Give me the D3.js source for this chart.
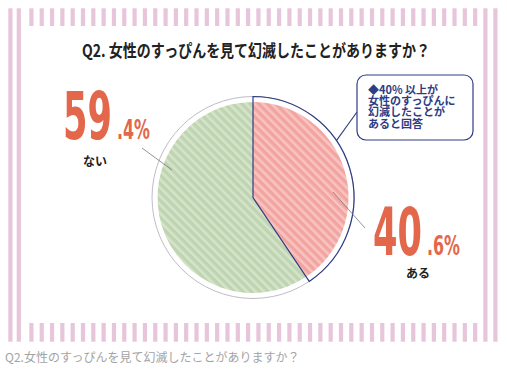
<!DOCTYPE html>
<html lang="ja">
<head>
    <meta charset="UTF-8">
    <script src="https://cdn.jsdelivr.net/npm/d3@7"></script>
    <title>Q2 pie</title>
    <style>
        html, body {
            margin: 0px;
            padding: 0px;
            background-color: #ffffff;
            font-family: "Noto Sans CJK JP", sans-serif;
        }
        svg { display: block; }
    </style>
</head>
<body>
    <div id="chart"></div>

    <script>
        // data
        let categories = ['ある', 'ない'];
        let values = [40.6, 59.4];
        let title = 'Q2. 女性のすっぴんを見て幻滅したことがありますか？';
        let caption = 'Q2.女性のすっぴんを見て幻滅したことがありますか？';
        let note_lines = ['◆40% 以上が', '女性のすっぴんに', '幻滅したことが', 'あると回答'];

        let width = 507, height = 373;
        let svg = d3.select('#chart').append('svg').attr('width', width).attr('height', height);

        let pink = '#e7c5da';
        let navy = '#2f3c84';
        let numColor = '#e3674b';

        // frame: long side bars + short stripes top/bottom
        let sideBars = [8.3, 16.7, 483.3, 493.3];
        svg.selectAll('rect.side')
            .data(sideBars)
            .join('rect')
            .attr('class', 'side')
            .attr('x', d => d).attr('y', 8.3)
            .attr('width', 4.2).attr('height', 333.4)
            .attr('fill', pink);

        let stripeX = d3.range(44).map(i => 29.3 + i * 10.32);
        [[8.3, 17.7], [323, 18.7]].forEach(([y, h]) => {
            svg.append('g').selectAll('rect')
                .data(stripeX)
                .join('rect')
                .attr('x', d => d).attr('y', y)
                .attr('width', 4.2).attr('height', h)
                .attr('fill', pink);
        });

        // title
        svg.append('text')
            .attr('x', 82).attr('y', 57)
            .attr('textLength', 348).attr('lengthAdjust', 'spacingAndGlyphs')
            .attr('font-size', 17).attr('font-weight', 'bold')
            .attr('fill', '#222')
            .text(title);

        // caption
        svg.append('text')
            .attr('x', 5).attr('y', 362)
            .attr('font-size', 12)
            .attr('fill', '#a3a3a3')
            .text(caption);

        // stripe patterns
        let defs = svg.append('defs');
        let fills = [
            { id: 'redStripe', base: '#f2a4a1', light: '#f8c4c1' },
            { id: 'greenStripe', base: '#bfd4b1', light: '#d5e4ca' }
        ];
        fills.forEach(f => {
            let p = defs.append('pattern')
                .attr('id', f.id)
                .attr('patternUnits', 'userSpaceOnUse')
                .attr('width', 6).attr('height', 6)
                .attr('patternTransform', 'rotate(-45)');
            p.append('rect').attr('width', 6).attr('height', 6).attr('fill', f.base);
            p.append('rect').attr('width', 2.6).attr('height', 6).attr('fill', f.light);
        });

        // pie
        let cx = 253, cy = 197.5;
        let rFill = 95.5, rRing = 101;
        let pie = d3.pie().sort(null).value(d => d);
        let arcs = pie(values);
        let arcFill = d3.arc().innerRadius(0).outerRadius(rFill);
        let arcOuter = d3.arc().innerRadius(0).outerRadius(rRing);

        let g = svg.append('g').attr('transform', `translate(${cx},${cy})`);

        g.append('circle')
            .attr('r', rRing)
            .attr('fill', 'none')
            .attr('stroke', '#b9b3c0')
            .attr('stroke-width', 0.9);

        g.selectAll('path.slice')
            .data(arcs)
            .join('path')
            .attr('class', 'slice')
            .attr('d', arcFill)
            .attr('fill', (d, i) => `url(#${fills[i].id})`);

        // highlight outline of first slice
        g.append('path')
            .attr('d', arcOuter(arcs[0]))
            .attr('fill', 'none')
            .attr('stroke', navy)
            .attr('stroke-width', 1.2)
            .attr('stroke-linejoin', 'miter');

        // leader lines
        let leaders = [
            [[333, 192], [365, 228]],
            [[172, 170], [142, 148]]
        ];
        svg.selectAll('line.leader')
            .data(leaders)
            .join('line')
            .attr('class', 'leader')
            .attr('x1', d => d[0][0]).attr('y1', d => d[0][1])
            .attr('x2', d => d[1][0]).attr('y2', d => d[1][1])
            .attr('stroke', '#777')
            .attr('stroke-width', 0.8);

        // value labels: big digits drawn smaller and stretched vertically
        let numFont = '"Liberation Sans Narrow", "DejaVu Sans Condensed", sans-serif';
        let labelPos = [
            { x: 373, y: 255, name: 418, nameY: 278 },
            { x: 63, y: 139, name: 95, nameY: 166 }
        ];
        values.forEach((v, i) => {
            let [whole, dec] = v.toFixed(1).split('.');
            let p = labelPos[i];
            svg.append('text')
                .attr('transform', `translate(${p.x},${p.y}) scale(1,1.45)`)
                .attr('font-family', numFont)
                .attr('font-weight', 'bold')
                .attr('font-size', 45)
                .attr('textLength', 49).attr('lengthAdjust', 'spacingAndGlyphs')
                .attr('fill', numColor)
                .text(whole);
            svg.append('text')
                .attr('transform', `translate(${p.x + 54},${p.y}) scale(1,1.3)`)
                .attr('font-family', numFont)
                .attr('font-weight', 'bold')
                .attr('font-size', 21)
                .attr('textLength', 33).attr('lengthAdjust', 'spacingAndGlyphs')
                .attr('fill', numColor)
                .text('.' + dec + '%');
            svg.append('text')
                .attr('x', p.name).attr('y', p.nameY)
                .attr('text-anchor', 'middle')
                .attr('font-size', 12).attr('font-weight', 'bold')
                .attr('fill', '#222')
                .text(categories[i]);
        });

        // callout
        svg.append('line')
            .attr('x1', 357).attr('y1', 112)
            .attr('x2', 336.4).attr('y2', 140.6)
            .attr('stroke', navy).attr('stroke-width', 1.1);
        svg.append('rect')
            .attr('x', 357).attr('y', 75)
            .attr('width', 116).attr('height', 65)
            .attr('rx', 9)
            .attr('fill', '#fff')
            .attr('stroke', navy).attr('stroke-width', 1.2);
        svg.append('g').selectAll('text')
            .data(note_lines)
            .join('text')
            .attr('x', 368)
            .attr('y', (d, i) => 94 + i * 11.2)
            .attr('font-size', 11).attr('font-weight', 'bold')
            .attr('fill', navy)
            .text(d => d);
    </script>
</body>
</html>
